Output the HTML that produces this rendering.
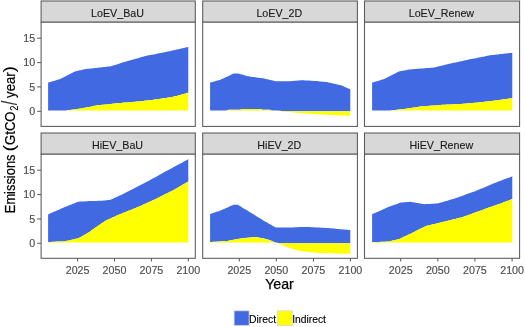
<!DOCTYPE html>
<html><head><meta charset="utf-8"><title>Emissions</title>
<style>html,body{margin:0;padding:0;background:#fff;}svg{display:block;}</style></head>
<body>
<svg width="525" height="327" viewBox="0 0 525 327" font-family="Liberation Sans, Arial, sans-serif">
<rect width="525" height="327" fill="#fff"/>
<polygon fill="#4169E1" points="48.1,82.6 49.6,82.2 51.0,81.8 52.5,81.3 53.9,80.9 55.4,80.5 56.9,80.1 58.3,79.6 59.8,79.2 61.2,78.5 62.7,77.7 64.2,77.0 65.6,76.2 67.1,75.5 68.5,74.8 70.0,74.0 71.5,73.3 72.9,72.6 74.4,71.8 75.8,71.3 77.3,70.9 78.8,70.6 80.2,70.2 81.7,69.9 83.2,69.5 84.6,69.2 86.1,69.0 87.5,68.8 89.0,68.7 90.5,68.5 91.9,68.4 93.4,68.2 94.8,68.1 96.3,67.9 97.8,67.7 99.2,67.6 100.7,67.4 102.1,67.3 103.6,67.1 105.1,67.0 106.5,66.8 108.0,66.6 109.4,66.5 110.9,66.2 112.4,65.8 113.8,65.3 115.3,64.9 116.7,64.4 118.2,63.9 119.7,63.5 121.1,63.0 122.6,62.6 124.0,62.1 125.5,61.7 127.0,61.3 128.4,60.8 129.9,60.4 131.3,60.0 132.8,59.6 134.3,59.2 135.7,58.8 137.2,58.4 138.6,58.0 140.1,57.6 141.6,57.1 143.0,56.7 144.5,56.3 145.9,55.9 147.4,55.6 148.9,55.3 150.3,55.1 151.8,54.8 153.3,54.5 154.7,54.2 156.2,53.9 157.6,53.6 159.1,53.3 160.6,53.0 162.0,52.7 163.5,52.4 164.9,52.2 166.4,51.8 167.9,51.5 169.3,51.2 170.8,50.9 172.2,50.6 173.7,50.2 175.2,49.9 176.6,49.6 178.1,49.3 179.5,48.9 181.0,48.6 182.5,48.3 183.9,48.0 185.4,47.6 186.8,47.3 188.3,47.0 188.3,92.7 186.8,93.1 185.4,93.5 183.9,93.9 182.5,94.3 181.0,94.7 179.5,95.1 178.1,95.5 176.6,95.9 175.2,96.3 173.7,96.6 172.2,97.0 170.8,97.2 169.3,97.4 167.9,97.6 166.4,97.9 164.9,98.1 163.5,98.3 162.0,98.5 160.6,98.7 159.1,98.9 157.6,99.1 156.2,99.3 154.7,99.5 153.3,99.7 151.8,99.9 150.3,100.0 148.9,100.2 147.4,100.4 145.9,100.5 144.5,100.7 143.0,100.9 141.6,101.1 140.1,101.2 138.6,101.4 137.2,101.5 135.7,101.7 134.3,101.8 132.8,101.9 131.3,102.0 129.9,102.2 128.4,102.3 127.0,102.4 125.5,102.5 124.0,102.6 122.6,102.8 121.1,102.9 119.7,103.0 118.2,103.2 116.7,103.3 115.3,103.5 113.8,103.6 112.4,103.8 110.9,103.9 109.4,104.1 108.0,104.2 106.5,104.4 105.1,104.5 103.6,104.7 102.1,104.8 100.7,105.0 99.2,105.1 97.8,105.3 96.3,105.5 94.8,105.8 93.4,106.1 91.9,106.4 90.5,106.7 89.0,107.0 87.5,107.2 86.1,107.5 84.6,107.8 83.2,108.1 81.7,108.4 80.2,108.6 78.8,108.8 77.3,109.0 75.8,109.2 74.4,109.4 72.9,109.6 71.5,109.8 70.0,109.9 68.5,110.1 67.1,110.3 65.6,110.4 64.2,110.4 62.7,110.4 61.2,110.4 59.8,110.4 58.3,110.4 56.9,110.5 55.4,110.5 53.9,110.5 52.5,110.5 51.0,110.5 49.6,110.5 48.1,110.5"/>
<polygon fill="#FFFF00" points="48.1,110.5 49.6,110.5 51.0,110.5 52.5,110.5 53.9,110.5 55.4,110.5 56.9,110.5 58.3,110.4 59.8,110.4 61.2,110.4 62.7,110.4 64.2,110.4 65.6,110.4 67.1,110.3 68.5,110.1 70.0,109.9 71.5,109.8 72.9,109.6 74.4,109.4 75.8,109.2 77.3,109.0 78.8,108.8 80.2,108.6 81.7,108.4 83.2,108.1 84.6,107.8 86.1,107.5 87.5,107.2 89.0,107.0 90.5,106.7 91.9,106.4 93.4,106.1 94.8,105.8 96.3,105.5 97.8,105.3 99.2,105.1 100.7,105.0 102.1,104.8 103.6,104.7 105.1,104.5 106.5,104.4 108.0,104.2 109.4,104.1 110.9,103.9 112.4,103.8 113.8,103.6 115.3,103.5 116.7,103.3 118.2,103.2 119.7,103.0 121.1,102.9 122.6,102.8 124.0,102.6 125.5,102.5 127.0,102.4 128.4,102.3 129.9,102.2 131.3,102.0 132.8,101.9 134.3,101.8 135.7,101.7 137.2,101.5 138.6,101.4 140.1,101.2 141.6,101.1 143.0,100.9 144.5,100.7 145.9,100.5 147.4,100.4 148.9,100.2 150.3,100.0 151.8,99.9 153.3,99.7 154.7,99.5 156.2,99.3 157.6,99.1 159.1,98.9 160.6,98.7 162.0,98.5 163.5,98.3 164.9,98.1 166.4,97.9 167.9,97.6 169.3,97.4 170.8,97.2 172.2,97.0 173.7,96.6 175.2,96.3 176.6,95.9 178.1,95.5 179.5,95.1 181.0,94.7 182.5,94.3 183.9,93.9 185.4,93.5 186.8,93.1 188.3,92.7 188.3,110.5 186.8,110.5 185.4,110.5 183.9,110.5 182.5,110.5 181.0,110.5 179.5,110.5 178.1,110.5 176.6,110.5 175.2,110.5 173.7,110.5 172.2,110.5 170.8,110.5 169.3,110.5 167.9,110.5 166.4,110.5 164.9,110.5 163.5,110.5 162.0,110.5 160.6,110.5 159.1,110.5 157.6,110.5 156.2,110.5 154.7,110.5 153.3,110.5 151.8,110.5 150.3,110.5 148.9,110.5 147.4,110.5 145.9,110.5 144.5,110.5 143.0,110.5 141.6,110.5 140.1,110.5 138.6,110.5 137.2,110.5 135.7,110.5 134.3,110.5 132.8,110.5 131.3,110.5 129.9,110.5 128.4,110.5 127.0,110.5 125.5,110.5 124.0,110.5 122.6,110.5 121.1,110.5 119.7,110.5 118.2,110.5 116.7,110.5 115.3,110.5 113.8,110.5 112.4,110.5 110.9,110.5 109.4,110.5 108.0,110.5 106.5,110.5 105.1,110.5 103.6,110.5 102.1,110.5 100.7,110.5 99.2,110.5 97.8,110.5 96.3,110.5 94.8,110.5 93.4,110.5 91.9,110.5 90.5,110.5 89.0,110.5 87.5,110.5 86.1,110.5 84.6,110.5 83.2,110.5 81.7,110.5 80.2,110.5 78.8,110.5 77.3,110.5 75.8,110.5 74.4,110.5 72.9,110.5 71.5,110.5 70.0,110.5 68.5,110.5 67.1,110.5 65.6,110.5 64.2,110.5 62.7,110.5 61.2,110.5 59.8,110.5 58.3,110.5 56.9,110.5 55.4,110.5 53.9,110.5 52.5,110.5 51.0,110.5 49.6,110.5 48.1,110.5"/>
<rect x="41.1" y="22.0" width="154.2" height="104.4" fill="none" stroke="#5a5a5a" stroke-width="1.05"/>
<rect x="41.1" y="1.0" width="154.2" height="21.0" fill="#D8D8D8" stroke="#5a5a5a" stroke-width="1.05"/>
<text x="117.5" y="16.5" font-size="10.7" fill="#1A1A1A" stroke="#1A1A1A" stroke-width="0.12" text-anchor="middle">LoEV_BaU</text>
<polygon fill="#4169E1" points="210.1,82.6 211.6,82.2 213.0,81.8 214.5,81.4 215.9,81.0 217.4,80.6 218.9,80.3 220.3,79.8 221.8,79.1 223.2,78.4 224.7,77.7 226.2,77.1 227.6,76.4 229.1,75.7 230.5,75.0 232.0,74.3 233.5,73.6 234.9,73.5 236.4,73.5 237.8,73.5 239.3,73.7 240.8,74.2 242.2,74.6 243.7,75.1 245.2,75.6 246.6,76.1 248.1,76.3 249.5,76.5 251.0,76.7 252.5,76.9 253.9,77.1 255.4,77.3 256.8,77.5 258.3,77.7 259.8,77.9 261.2,78.1 262.7,78.3 264.1,78.6 265.6,79.0 267.1,79.3 268.5,79.6 270.0,79.9 271.4,80.3 272.9,80.6 274.4,80.9 275.8,81.2 277.3,81.2 278.7,81.2 280.2,81.2 281.7,81.2 283.1,81.2 284.6,81.2 286.0,81.2 287.5,81.2 289.0,81.2 290.4,81.2 291.9,81.1 293.3,80.9 294.8,80.8 296.3,80.7 297.7,80.5 299.2,80.4 300.6,80.2 302.1,80.3 303.6,80.3 305.0,80.4 306.5,80.5 307.9,80.6 309.4,80.6 310.9,80.7 312.3,80.8 313.8,80.9 315.2,81.0 316.7,81.1 318.2,81.3 319.6,81.4 321.1,81.6 322.6,81.7 324.0,81.8 325.5,82.0 326.9,82.1 328.4,82.4 329.9,82.7 331.3,83.0 332.8,83.4 334.2,83.7 335.7,84.0 337.2,84.4 338.6,84.7 340.1,85.0 341.5,85.4 343.0,86.1 344.5,86.7 345.9,87.4 347.4,88.0 348.8,88.7 350.3,89.3 350.3,111.2 348.8,111.2 347.4,111.2 345.9,111.2 344.5,111.2 343.0,111.2 341.5,111.2 340.1,111.2 338.6,111.2 337.2,111.2 335.7,111.2 334.2,111.2 332.8,111.2 331.3,111.2 329.9,111.2 328.4,111.2 326.9,111.2 325.5,111.2 324.0,111.2 322.6,111.2 321.1,111.2 319.6,111.2 318.2,111.2 316.7,111.2 315.2,111.2 313.8,111.2 312.3,111.2 310.9,111.2 309.4,111.2 307.9,111.2 306.5,111.2 305.0,111.2 303.6,111.2 302.1,111.2 300.6,111.2 299.2,111.2 297.7,111.2 296.3,111.2 294.8,111.2 293.3,111.2 291.9,111.2 290.4,111.2 289.0,111.2 287.5,111.2 286.0,111.1 284.6,111.0 283.1,111.0 281.7,110.9 280.2,110.8 278.7,110.7 277.3,110.7 275.8,110.6 274.4,110.6 272.9,110.5 271.4,110.2 270.0,109.8 268.5,109.8 267.1,109.8 265.6,109.7 264.1,109.7 262.7,109.7 261.2,109.2 259.8,109.1 258.3,109.1 256.8,109.1 255.4,109.1 253.9,109.1 252.5,109.1 251.0,109.1 249.5,109.1 248.1,109.1 246.6,109.1 245.2,109.1 243.7,109.1 242.2,109.1 240.8,109.5 239.3,109.7 237.8,109.7 236.4,109.7 234.9,109.7 233.5,109.7 232.0,109.7 230.5,109.7 229.1,109.7 227.6,110.0 226.2,110.4 224.7,110.4 223.2,110.4 221.8,110.4 220.3,110.4 218.9,110.4 217.4,110.5 215.9,110.5 214.5,110.5 213.0,110.5 211.6,110.5 210.1,110.5"/>
<polygon fill="#FFFF00" points="210.1,110.5 211.6,110.5 213.0,110.5 214.5,110.5 215.9,110.5 217.4,110.5 218.9,110.4 220.3,110.4 221.8,110.4 223.2,110.4 224.7,110.4 226.2,110.4 227.6,110.0 229.1,109.7 230.5,109.7 232.0,109.7 233.5,109.7 234.9,109.7 236.4,109.7 237.8,109.7 239.3,109.7 240.8,109.5 242.2,109.1 243.7,109.1 245.2,109.1 246.6,109.1 248.1,109.1 249.5,109.1 251.0,109.1 252.5,109.1 253.9,109.1 255.4,109.1 256.8,109.1 258.3,109.1 259.8,109.1 261.2,109.2 262.7,109.7 264.1,109.7 265.6,109.7 267.1,109.8 268.5,109.8 270.0,109.8 271.4,110.2 272.9,110.5 274.4,110.7 275.8,110.8 277.3,110.9 278.7,111.0 280.2,111.1 281.7,111.3 283.1,111.4 284.6,111.6 286.0,111.7 287.5,111.9 289.0,112.0 290.4,112.1 291.9,112.3 293.3,112.4 294.8,112.6 296.3,112.7 297.7,112.9 299.2,113.0 300.6,113.1 302.1,113.2 303.6,113.3 305.0,113.4 306.5,113.5 307.9,113.6 309.4,113.7 310.9,113.8 312.3,113.9 313.8,114.0 315.2,114.1 316.7,114.2 318.2,114.3 319.6,114.3 321.1,114.4 322.6,114.5 324.0,114.6 325.5,114.6 326.9,114.7 328.4,114.8 329.9,114.9 331.3,115.0 332.8,115.0 334.2,115.1 335.7,115.2 337.2,115.2 338.6,115.3 340.1,115.4 341.5,115.4 343.0,115.5 344.5,115.6 345.9,115.6 347.4,115.7 348.8,115.7 350.3,115.8 350.3,111.2 348.8,111.2 347.4,111.2 345.9,111.2 344.5,111.2 343.0,111.2 341.5,111.2 340.1,111.2 338.6,111.2 337.2,111.2 335.7,111.2 334.2,111.2 332.8,111.2 331.3,111.2 329.9,111.2 328.4,111.2 326.9,111.2 325.5,111.2 324.0,111.2 322.6,111.2 321.1,111.2 319.6,111.2 318.2,111.2 316.7,111.2 315.2,111.2 313.8,111.2 312.3,111.2 310.9,111.2 309.4,111.2 307.9,111.2 306.5,111.2 305.0,111.2 303.6,111.2 302.1,111.2 300.6,111.2 299.2,111.2 297.7,111.2 296.3,111.2 294.8,111.2 293.3,111.2 291.9,111.2 290.4,111.2 289.0,111.2 287.5,111.2 286.0,111.1 284.6,111.0 283.1,111.0 281.7,110.9 280.2,110.8 278.7,110.7 277.3,110.7 275.8,110.6 274.4,110.6 272.9,110.5 271.4,110.5 270.0,110.5 268.5,110.5 267.1,110.5 265.6,110.5 264.1,110.5 262.7,110.5 261.2,110.5 259.8,110.5 258.3,110.5 256.8,110.5 255.4,110.5 253.9,110.5 252.5,110.5 251.0,110.5 249.5,110.5 248.1,110.5 246.6,110.5 245.2,110.5 243.7,110.5 242.2,110.5 240.8,110.5 239.3,110.5 237.8,110.5 236.4,110.5 234.9,110.5 233.5,110.5 232.0,110.5 230.5,110.5 229.1,110.5 227.6,110.5 226.2,110.5 224.7,110.5 223.2,110.5 221.8,110.5 220.3,110.5 218.9,110.5 217.4,110.5 215.9,110.5 214.5,110.5 213.0,110.5 211.6,110.5 210.1,110.5"/>
<rect x="202.7" y="22.0" width="154.7" height="104.4" fill="none" stroke="#5a5a5a" stroke-width="1.05"/>
<rect x="202.7" y="1.0" width="154.7" height="21.0" fill="#D8D8D8" stroke="#5a5a5a" stroke-width="1.05"/>
<text x="279.3" y="16.5" font-size="10.7" fill="#1A1A1A" stroke="#1A1A1A" stroke-width="0.12" text-anchor="middle">LoEV_2D</text>
<polygon fill="#4169E1" points="372.1,82.6 373.6,82.2 375.0,81.8 376.5,81.3 377.9,80.9 379.4,80.5 380.9,80.1 382.3,79.6 383.8,79.2 385.2,78.5 386.7,77.7 388.2,77.0 389.6,76.2 391.1,75.5 392.5,74.8 394.0,74.0 395.5,73.3 396.9,72.6 398.4,71.8 399.8,71.3 401.3,71.0 402.8,70.7 404.2,70.5 405.7,70.2 407.1,69.9 408.6,69.6 410.1,69.4 411.5,69.3 413.0,69.2 414.5,69.1 415.9,69.0 417.4,68.8 418.8,68.7 420.3,68.6 421.8,68.5 423.2,68.4 424.7,68.3 426.1,68.1 427.6,68.0 429.1,67.9 430.5,67.8 432.0,67.7 433.4,67.6 434.9,67.4 436.4,67.0 437.8,66.6 439.3,66.3 440.7,65.9 442.2,65.6 443.7,65.2 445.1,64.8 446.6,64.5 448.0,64.1 449.5,63.8 451.0,63.5 452.4,63.1 453.9,62.8 455.3,62.5 456.8,62.2 458.3,61.9 459.7,61.6 461.2,61.2 462.6,60.9 464.1,60.6 465.6,60.3 467.0,60.0 468.5,59.6 469.9,59.3 471.4,59.0 472.9,58.7 474.3,58.5 475.8,58.2 477.2,57.9 478.7,57.6 480.2,57.3 481.6,57.0 483.1,56.7 484.6,56.4 486.0,56.1 487.5,55.8 488.9,55.6 490.4,55.3 491.9,55.1 493.3,55.0 494.8,54.8 496.2,54.6 497.7,54.4 499.2,54.3 500.6,54.1 502.1,53.9 503.5,53.7 505.0,53.6 506.5,53.4 507.9,53.2 509.4,53.0 510.8,52.9 512.3,52.7 512.3,98.0 510.8,98.2 509.4,98.4 507.9,98.7 506.5,98.9 505.0,99.1 503.5,99.3 502.1,99.5 500.6,99.8 499.2,100.0 497.7,100.2 496.2,100.4 494.8,100.6 493.3,100.8 491.9,100.9 490.4,101.1 488.9,101.3 487.5,101.5 486.0,101.6 484.6,101.8 483.1,102.0 481.6,102.2 480.2,102.3 478.7,102.5 477.2,102.6 475.8,102.7 474.3,102.8 472.9,103.0 471.4,103.1 469.9,103.2 468.5,103.3 467.0,103.4 465.6,103.6 464.1,103.7 462.6,103.8 461.2,103.9 459.7,104.0 458.3,104.0 456.8,104.1 455.3,104.2 453.9,104.2 452.4,104.3 451.0,104.4 449.5,104.5 448.0,104.5 446.6,104.6 445.1,104.7 443.7,104.8 442.2,104.8 440.7,104.9 439.3,105.0 437.8,105.2 436.4,105.3 434.9,105.4 433.4,105.5 432.0,105.6 430.5,105.7 429.1,105.8 427.6,105.9 426.1,106.0 424.7,106.1 423.2,106.2 421.8,106.3 420.3,106.5 418.8,106.7 417.4,106.9 415.9,107.2 414.5,107.4 413.0,107.6 411.5,107.9 410.1,108.1 408.6,108.3 407.1,108.6 405.7,108.8 404.2,109.0 402.8,109.1 401.3,109.3 399.8,109.4 398.4,109.6 396.9,109.7 395.5,109.9 394.0,110.0 392.5,110.2 391.1,110.3 389.6,110.4 388.2,110.4 386.7,110.4 385.2,110.4 383.8,110.4 382.3,110.4 380.9,110.5 379.4,110.5 377.9,110.5 376.5,110.5 375.0,110.5 373.6,110.5 372.1,110.5"/>
<polygon fill="#FFFF00" points="372.1,110.5 373.6,110.5 375.0,110.5 376.5,110.5 377.9,110.5 379.4,110.5 380.9,110.5 382.3,110.4 383.8,110.4 385.2,110.4 386.7,110.4 388.2,110.4 389.6,110.4 391.1,110.3 392.5,110.2 394.0,110.0 395.5,109.9 396.9,109.7 398.4,109.6 399.8,109.4 401.3,109.3 402.8,109.1 404.2,109.0 405.7,108.8 407.1,108.6 408.6,108.3 410.1,108.1 411.5,107.9 413.0,107.6 414.5,107.4 415.9,107.2 417.4,106.9 418.8,106.7 420.3,106.5 421.8,106.3 423.2,106.2 424.7,106.1 426.1,106.0 427.6,105.9 429.1,105.8 430.5,105.7 432.0,105.6 433.4,105.5 434.9,105.4 436.4,105.3 437.8,105.2 439.3,105.0 440.7,104.9 442.2,104.8 443.7,104.8 445.1,104.7 446.6,104.6 448.0,104.5 449.5,104.5 451.0,104.4 452.4,104.3 453.9,104.2 455.3,104.2 456.8,104.1 458.3,104.0 459.7,104.0 461.2,103.9 462.6,103.8 464.1,103.7 465.6,103.6 467.0,103.4 468.5,103.3 469.9,103.2 471.4,103.1 472.9,103.0 474.3,102.8 475.8,102.7 477.2,102.6 478.7,102.5 480.2,102.3 481.6,102.2 483.1,102.0 484.6,101.8 486.0,101.6 487.5,101.5 488.9,101.3 490.4,101.1 491.9,100.9 493.3,100.8 494.8,100.6 496.2,100.4 497.7,100.2 499.2,100.0 500.6,99.8 502.1,99.5 503.5,99.3 505.0,99.1 506.5,98.9 507.9,98.7 509.4,98.4 510.8,98.2 512.3,98.0 512.3,110.5 510.8,110.5 509.4,110.5 507.9,110.5 506.5,110.5 505.0,110.5 503.5,110.5 502.1,110.5 500.6,110.5 499.2,110.5 497.7,110.5 496.2,110.5 494.8,110.5 493.3,110.5 491.9,110.5 490.4,110.5 488.9,110.5 487.5,110.5 486.0,110.5 484.6,110.5 483.1,110.5 481.6,110.5 480.2,110.5 478.7,110.5 477.2,110.5 475.8,110.5 474.3,110.5 472.9,110.5 471.4,110.5 469.9,110.5 468.5,110.5 467.0,110.5 465.6,110.5 464.1,110.5 462.6,110.5 461.2,110.5 459.7,110.5 458.3,110.5 456.8,110.5 455.3,110.5 453.9,110.5 452.4,110.5 451.0,110.5 449.5,110.5 448.0,110.5 446.6,110.5 445.1,110.5 443.7,110.5 442.2,110.5 440.7,110.5 439.3,110.5 437.8,110.5 436.4,110.5 434.9,110.5 433.4,110.5 432.0,110.5 430.5,110.5 429.1,110.5 427.6,110.5 426.1,110.5 424.7,110.5 423.2,110.5 421.8,110.5 420.3,110.5 418.8,110.5 417.4,110.5 415.9,110.5 414.5,110.5 413.0,110.5 411.5,110.5 410.1,110.5 408.6,110.5 407.1,110.5 405.7,110.5 404.2,110.5 402.8,110.5 401.3,110.5 399.8,110.5 398.4,110.5 396.9,110.5 395.5,110.5 394.0,110.5 392.5,110.5 391.1,110.5 389.6,110.5 388.2,110.5 386.7,110.5 385.2,110.5 383.8,110.5 382.3,110.5 380.9,110.5 379.4,110.5 377.9,110.5 376.5,110.5 375.0,110.5 373.6,110.5 372.1,110.5"/>
<rect x="364.5" y="22.0" width="155.1" height="104.4" fill="none" stroke="#5a5a5a" stroke-width="1.05"/>
<rect x="364.5" y="1.0" width="155.1" height="21.0" fill="#D8D8D8" stroke="#5a5a5a" stroke-width="1.05"/>
<text x="441.4" y="16.5" font-size="10.7" fill="#1A1A1A" stroke="#1A1A1A" stroke-width="0.12" text-anchor="middle">LoEV_Renew</text>
<line x1="37.2" x2="41" y1="111.3" y2="111.3" stroke="#555" stroke-width="1"/>
<text x="35.1" y="115.1" font-size="10.7" fill="#4D4D4D" stroke="#4D4D4D" stroke-width="0.15" text-anchor="end">0</text>
<line x1="37.2" x2="41" y1="86.9" y2="86.9" stroke="#555" stroke-width="1"/>
<text x="35.1" y="90.7" font-size="10.7" fill="#4D4D4D" stroke="#4D4D4D" stroke-width="0.15" text-anchor="end">5</text>
<line x1="37.2" x2="41" y1="62.6" y2="62.6" stroke="#555" stroke-width="1"/>
<text x="35.1" y="66.4" font-size="10.7" fill="#4D4D4D" stroke="#4D4D4D" stroke-width="0.15" text-anchor="end">10</text>
<line x1="37.2" x2="41" y1="38.2" y2="38.2" stroke="#555" stroke-width="1"/>
<text x="35.1" y="42.0" font-size="10.7" fill="#4D4D4D" stroke="#4D4D4D" stroke-width="0.15" text-anchor="end">15</text>
<polygon fill="#4169E1" points="48.1,214.4 49.6,213.8 51.0,213.1 52.5,212.5 53.9,211.8 55.4,211.2 56.9,210.5 58.3,209.9 59.8,209.2 61.2,208.6 62.7,207.9 64.2,207.3 65.6,206.7 67.1,206.2 68.5,205.6 70.0,205.0 71.5,204.4 72.9,203.8 74.4,203.3 75.8,202.7 77.3,202.1 78.8,201.7 80.2,201.6 81.7,201.5 83.2,201.4 84.6,201.4 86.1,201.3 87.5,201.2 89.0,201.1 90.5,201.1 91.9,201.0 93.4,200.9 94.8,200.9 96.3,200.9 97.8,200.8 99.2,200.8 100.7,200.7 102.1,200.7 103.6,200.6 105.1,200.5 106.5,200.3 108.0,200.1 109.4,199.9 110.9,199.5 112.4,198.9 113.8,198.2 115.3,197.5 116.7,196.9 118.2,196.2 119.7,195.5 121.1,194.9 122.6,194.2 124.0,193.5 125.5,192.8 127.0,192.1 128.4,191.3 129.9,190.6 131.3,189.8 132.8,189.1 134.3,188.3 135.7,187.6 137.2,186.8 138.6,186.1 140.1,185.3 141.6,184.6 143.0,183.8 144.5,183.1 145.9,182.3 147.4,181.5 148.9,180.7 150.3,179.9 151.8,179.1 153.3,178.3 154.7,177.5 156.2,176.7 157.6,175.9 159.1,175.0 160.6,174.2 162.0,173.4 163.5,172.6 164.9,171.8 166.4,171.0 167.9,170.2 169.3,169.5 170.8,168.7 172.2,167.9 173.7,167.1 175.2,166.3 176.6,165.6 178.1,164.8 179.5,164.0 181.0,163.2 182.5,162.4 183.9,161.6 185.4,160.9 186.8,160.1 188.3,159.3 188.3,181.5 186.8,182.3 185.4,183.2 183.9,184.0 182.5,184.8 181.0,185.7 179.5,186.5 178.1,187.4 176.6,188.2 175.2,189.0 173.7,189.9 172.2,190.7 170.8,191.4 169.3,192.1 167.9,192.9 166.4,193.6 164.9,194.3 163.5,195.1 162.0,195.8 160.6,196.5 159.1,197.3 157.6,198.0 156.2,198.7 154.7,199.4 153.3,200.1 151.8,200.7 150.3,201.4 148.9,202.1 147.4,202.8 145.9,203.4 144.5,204.1 143.0,204.8 141.6,205.4 140.1,206.1 138.6,206.8 137.2,207.3 135.7,207.9 134.3,208.5 132.8,209.1 131.3,209.7 129.9,210.3 128.4,210.8 127.0,211.4 125.5,212.0 124.0,212.6 122.6,213.2 121.1,213.8 119.7,214.3 118.2,214.9 116.7,215.5 115.3,216.2 113.8,216.9 112.4,217.5 110.9,218.2 109.4,218.9 108.0,219.5 106.5,220.2 105.1,220.9 103.6,221.9 102.1,223.0 100.7,224.0 99.2,225.0 97.8,226.0 96.3,227.1 94.8,228.1 93.4,229.1 91.9,230.1 90.5,231.2 89.0,232.2 87.5,233.1 86.1,233.9 84.6,234.7 83.2,235.6 81.7,236.4 80.2,237.2 78.8,238.0 77.3,238.5 75.8,238.8 74.4,239.2 72.9,239.5 71.5,239.8 70.0,240.2 68.5,240.5 67.1,240.8 65.6,241.1 64.2,241.3 62.7,241.4 61.2,241.5 59.8,241.5 58.3,241.6 56.9,241.6 55.4,241.7 53.9,241.8 52.5,241.8 51.0,241.9 49.6,241.9 48.1,242.0"/>
<polygon fill="#FFFF00" points="48.1,242.0 49.6,241.9 51.0,241.9 52.5,241.8 53.9,241.8 55.4,241.7 56.9,241.6 58.3,241.6 59.8,241.5 61.2,241.5 62.7,241.4 64.2,241.3 65.6,241.1 67.1,240.8 68.5,240.5 70.0,240.2 71.5,239.8 72.9,239.5 74.4,239.2 75.8,238.8 77.3,238.5 78.8,238.0 80.2,237.2 81.7,236.4 83.2,235.6 84.6,234.7 86.1,233.9 87.5,233.1 89.0,232.2 90.5,231.2 91.9,230.1 93.4,229.1 94.8,228.1 96.3,227.1 97.8,226.0 99.2,225.0 100.7,224.0 102.1,223.0 103.6,221.9 105.1,220.9 106.5,220.2 108.0,219.5 109.4,218.9 110.9,218.2 112.4,217.5 113.8,216.9 115.3,216.2 116.7,215.5 118.2,214.9 119.7,214.3 121.1,213.8 122.6,213.2 124.0,212.6 125.5,212.0 127.0,211.4 128.4,210.8 129.9,210.3 131.3,209.7 132.8,209.1 134.3,208.5 135.7,207.9 137.2,207.3 138.6,206.8 140.1,206.1 141.6,205.4 143.0,204.8 144.5,204.1 145.9,203.4 147.4,202.8 148.9,202.1 150.3,201.4 151.8,200.7 153.3,200.1 154.7,199.4 156.2,198.7 157.6,198.0 159.1,197.3 160.6,196.5 162.0,195.8 163.5,195.1 164.9,194.3 166.4,193.6 167.9,192.9 169.3,192.1 170.8,191.4 172.2,190.7 173.7,189.9 175.2,189.0 176.6,188.2 178.1,187.4 179.5,186.5 181.0,185.7 182.5,184.8 183.9,184.0 185.4,183.2 186.8,182.3 188.3,181.5 188.3,242.6 186.8,242.6 185.4,242.6 183.9,242.6 182.5,242.6 181.0,242.6 179.5,242.6 178.1,242.6 176.6,242.6 175.2,242.6 173.7,242.6 172.2,242.6 170.8,242.6 169.3,242.6 167.9,242.6 166.4,242.6 164.9,242.6 163.5,242.6 162.0,242.6 160.6,242.6 159.1,242.6 157.6,242.6 156.2,242.6 154.7,242.6 153.3,242.6 151.8,242.6 150.3,242.6 148.9,242.6 147.4,242.6 145.9,242.6 144.5,242.6 143.0,242.6 141.6,242.6 140.1,242.6 138.6,242.6 137.2,242.6 135.7,242.6 134.3,242.6 132.8,242.6 131.3,242.6 129.9,242.6 128.4,242.6 127.0,242.6 125.5,242.6 124.0,242.6 122.6,242.6 121.1,242.6 119.7,242.6 118.2,242.6 116.7,242.6 115.3,242.6 113.8,242.6 112.4,242.6 110.9,242.6 109.4,242.6 108.0,242.6 106.5,242.6 105.1,242.6 103.6,242.6 102.1,242.6 100.7,242.6 99.2,242.6 97.8,242.6 96.3,242.6 94.8,242.6 93.4,242.6 91.9,242.6 90.5,242.6 89.0,242.6 87.5,242.6 86.1,242.6 84.6,242.6 83.2,242.6 81.7,242.6 80.2,242.6 78.8,242.6 77.3,242.6 75.8,242.6 74.4,242.6 72.9,242.6 71.5,242.6 70.0,242.6 68.5,242.6 67.1,242.6 65.6,242.6 64.2,242.6 62.7,242.6 61.2,242.6 59.8,242.6 58.3,242.6 56.9,242.6 55.4,242.6 53.9,242.6 52.5,242.6 51.0,242.6 49.6,242.6 48.1,242.6"/>
<rect x="41.1" y="154.0" width="154.2" height="104.30000000000001" fill="none" stroke="#5a5a5a" stroke-width="1.05"/>
<rect x="41.1" y="133.0" width="154.2" height="21.0" fill="#D8D8D8" stroke="#5a5a5a" stroke-width="1.05"/>
<text x="117.5" y="148.5" font-size="10.7" fill="#1A1A1A" stroke="#1A1A1A" stroke-width="0.12" text-anchor="middle">HiEV_BaU</text>
<line x1="77.6" x2="77.6" y1="258.3" y2="261.5" stroke="#555" stroke-width="1"/>
<text x="77.6" y="273.6" font-size="10.7" fill="#4D4D4D" stroke="#4D4D4D" stroke-width="0.15" text-anchor="middle">2025</text>
<line x1="114.5" x2="114.5" y1="258.3" y2="261.5" stroke="#555" stroke-width="1"/>
<text x="114.5" y="273.6" font-size="10.7" fill="#4D4D4D" stroke="#4D4D4D" stroke-width="0.15" text-anchor="middle">2050</text>
<line x1="151.4" x2="151.4" y1="258.3" y2="261.5" stroke="#555" stroke-width="1"/>
<text x="151.4" y="273.6" font-size="10.7" fill="#4D4D4D" stroke="#4D4D4D" stroke-width="0.15" text-anchor="middle">2075</text>
<line x1="188.3" x2="188.3" y1="258.3" y2="261.5" stroke="#555" stroke-width="1"/>
<text x="188.3" y="273.6" font-size="10.7" fill="#4D4D4D" stroke="#4D4D4D" stroke-width="0.15" text-anchor="middle">2100</text>
<polygon fill="#4169E1" points="210.1,214.1 211.6,213.6 213.0,213.1 214.5,212.6 215.9,212.1 217.4,211.6 218.9,211.2 220.3,210.6 221.8,210.0 223.2,209.3 224.7,208.7 226.2,208.0 227.6,207.4 229.1,206.7 230.5,206.1 232.0,205.4 233.5,204.8 234.9,204.7 236.4,204.7 237.8,204.8 239.3,205.7 240.8,206.6 242.2,207.5 243.7,208.4 245.2,209.2 246.6,210.1 248.1,211.0 249.5,211.9 251.0,212.8 252.5,213.7 253.9,214.6 255.4,215.5 256.8,216.4 258.3,217.3 259.8,218.2 261.2,219.1 262.7,220.0 264.1,220.9 265.6,221.8 267.1,222.6 268.5,223.4 270.0,224.3 271.4,225.1 272.9,226.0 274.4,226.8 275.8,227.5 277.3,227.5 278.7,227.5 280.2,227.5 281.7,227.5 283.1,227.5 284.6,227.5 286.0,227.5 287.5,227.5 289.0,227.5 290.4,227.5 291.9,227.5 293.3,227.4 294.8,227.3 296.3,227.3 297.7,227.2 299.2,227.1 300.6,227.1 302.1,227.0 303.6,226.9 305.0,226.9 306.5,227.0 307.9,227.1 309.4,227.1 310.9,227.2 312.3,227.3 313.8,227.3 315.2,227.4 316.7,227.5 318.2,227.6 319.6,227.6 321.1,227.7 322.6,227.8 324.0,227.8 325.5,227.9 326.9,228.0 328.4,228.1 329.9,228.2 331.3,228.3 332.8,228.5 334.2,228.6 335.7,228.7 337.2,228.9 338.6,229.0 340.1,229.2 341.5,229.3 343.0,229.4 344.5,229.6 345.9,229.7 347.4,229.8 348.8,230.0 350.3,230.1 350.3,243.3 348.8,243.3 347.4,243.3 345.9,243.3 344.5,243.3 343.0,243.3 341.5,243.3 340.1,243.3 338.6,243.3 337.2,243.3 335.7,243.3 334.2,243.3 332.8,243.3 331.3,243.3 329.9,243.3 328.4,243.3 326.9,243.3 325.5,243.3 324.0,243.3 322.6,243.3 321.1,243.3 319.6,243.3 318.2,243.3 316.7,243.3 315.2,243.3 313.8,243.3 312.3,243.3 310.9,243.3 309.4,243.3 307.9,243.3 306.5,243.3 305.0,243.3 303.6,243.3 302.1,243.3 300.6,243.3 299.2,243.3 297.7,243.3 296.3,243.3 294.8,243.3 293.3,243.3 291.9,243.3 290.4,243.3 289.0,243.3 287.5,243.3 286.0,243.3 284.6,243.3 283.1,243.3 281.7,243.3 280.2,243.3 278.7,243.1 277.3,242.8 275.8,242.5 274.4,241.9 272.9,241.4 271.4,240.8 270.0,240.3 268.5,239.8 267.1,239.3 265.6,239.0 264.1,238.6 262.7,238.3 261.2,238.0 259.8,237.7 258.3,237.4 256.8,237.1 255.4,237.1 253.9,237.2 252.5,237.3 251.0,237.4 249.5,237.5 248.1,237.7 246.6,237.8 245.2,237.9 243.7,238.0 242.2,238.3 240.8,238.5 239.3,238.8 237.8,239.0 236.4,239.3 234.9,239.6 233.5,239.8 232.0,240.1 230.5,240.3 229.1,240.6 227.6,240.9 226.2,241.0 224.7,241.1 223.2,241.2 221.8,241.3 220.3,241.4 218.9,241.5 217.4,241.6 215.9,241.7 214.5,241.7 213.0,241.8 211.6,241.9 210.1,242.0"/>
<polygon fill="#FFFF00" points="210.1,242.0 211.6,241.9 213.0,241.8 214.5,241.7 215.9,241.7 217.4,241.6 218.9,241.5 220.3,241.4 221.8,241.3 223.2,241.2 224.7,241.1 226.2,241.0 227.6,240.9 229.1,240.6 230.5,240.3 232.0,240.1 233.5,239.8 234.9,239.6 236.4,239.3 237.8,239.0 239.3,238.8 240.8,238.5 242.2,238.3 243.7,238.0 245.2,237.9 246.6,237.8 248.1,237.7 249.5,237.5 251.0,237.4 252.5,237.3 253.9,237.2 255.4,237.1 256.8,237.1 258.3,237.4 259.8,237.7 261.2,238.0 262.7,238.3 264.1,238.6 265.6,239.0 267.1,239.3 268.5,239.8 270.0,240.3 271.4,240.8 272.9,241.4 274.4,241.9 275.8,242.5 277.3,243.0 278.7,243.6 280.2,244.2 281.7,244.8 283.1,245.3 284.6,245.9 286.0,246.5 287.5,247.1 289.0,247.7 290.4,248.2 291.9,248.7 293.3,249.1 294.8,249.5 296.3,249.9 297.7,250.3 299.2,250.7 300.6,251.1 302.1,251.2 303.6,251.4 305.0,251.5 306.5,251.7 307.9,251.8 309.4,252.0 310.9,252.1 312.3,252.3 313.8,252.4 315.2,252.6 316.7,252.7 318.2,252.8 319.6,252.9 321.1,252.9 322.6,253.0 324.0,253.0 325.5,253.1 326.9,253.1 328.4,253.2 329.9,253.2 331.3,253.3 332.8,253.3 334.2,253.4 335.7,253.4 337.2,253.5 338.6,253.5 340.1,253.5 341.5,253.6 343.0,253.6 344.5,253.7 345.9,253.7 347.4,253.7 348.8,253.8 350.3,253.8 350.3,243.3 348.8,243.3 347.4,243.3 345.9,243.3 344.5,243.3 343.0,243.3 341.5,243.3 340.1,243.3 338.6,243.3 337.2,243.3 335.7,243.3 334.2,243.3 332.8,243.3 331.3,243.3 329.9,243.3 328.4,243.3 326.9,243.3 325.5,243.3 324.0,243.3 322.6,243.3 321.1,243.3 319.6,243.3 318.2,243.3 316.7,243.3 315.2,243.3 313.8,243.3 312.3,243.3 310.9,243.3 309.4,243.3 307.9,243.3 306.5,243.3 305.0,243.3 303.6,243.3 302.1,243.3 300.6,243.3 299.2,243.3 297.7,243.3 296.3,243.3 294.8,243.3 293.3,243.3 291.9,243.3 290.4,243.3 289.0,243.3 287.5,243.3 286.0,243.3 284.6,243.3 283.1,243.3 281.7,243.3 280.2,243.3 278.7,243.1 277.3,242.8 275.8,242.6 274.4,242.6 272.9,242.6 271.4,242.6 270.0,242.6 268.5,242.6 267.1,242.6 265.6,242.6 264.1,242.6 262.7,242.6 261.2,242.6 259.8,242.6 258.3,242.6 256.8,242.6 255.4,242.6 253.9,242.6 252.5,242.6 251.0,242.6 249.5,242.6 248.1,242.6 246.6,242.6 245.2,242.6 243.7,242.6 242.2,242.6 240.8,242.6 239.3,242.6 237.8,242.6 236.4,242.6 234.9,242.6 233.5,242.6 232.0,242.6 230.5,242.6 229.1,242.6 227.6,242.6 226.2,242.6 224.7,242.6 223.2,242.6 221.8,242.6 220.3,242.6 218.9,242.6 217.4,242.6 215.9,242.6 214.5,242.6 213.0,242.6 211.6,242.6 210.1,242.6"/>
<rect x="202.7" y="154.0" width="154.7" height="104.30000000000001" fill="none" stroke="#5a5a5a" stroke-width="1.05"/>
<rect x="202.7" y="133.0" width="154.7" height="21.0" fill="#D8D8D8" stroke="#5a5a5a" stroke-width="1.05"/>
<text x="279.3" y="148.5" font-size="10.7" fill="#1A1A1A" stroke="#1A1A1A" stroke-width="0.12" text-anchor="middle">HiEV_2D</text>
<line x1="239.3" x2="239.3" y1="258.3" y2="261.5" stroke="#555" stroke-width="1"/>
<text x="239.3" y="273.6" font-size="10.7" fill="#4D4D4D" stroke="#4D4D4D" stroke-width="0.15" text-anchor="middle">2025</text>
<line x1="276.3" x2="276.3" y1="258.3" y2="261.5" stroke="#555" stroke-width="1"/>
<text x="276.3" y="273.6" font-size="10.7" fill="#4D4D4D" stroke="#4D4D4D" stroke-width="0.15" text-anchor="middle">2050</text>
<line x1="313.4" x2="313.4" y1="258.3" y2="261.5" stroke="#555" stroke-width="1"/>
<text x="313.4" y="273.6" font-size="10.7" fill="#4D4D4D" stroke="#4D4D4D" stroke-width="0.15" text-anchor="middle">2075</text>
<line x1="350.4" x2="350.4" y1="258.3" y2="261.5" stroke="#555" stroke-width="1"/>
<text x="350.4" y="273.6" font-size="10.7" fill="#4D4D4D" stroke="#4D4D4D" stroke-width="0.15" text-anchor="middle">2100</text>
<polygon fill="#4169E1" points="372.1,214.3 373.6,213.6 375.0,213.0 376.5,212.3 377.9,211.7 379.4,211.0 380.9,210.4 382.3,209.7 383.8,209.0 385.2,208.4 386.7,207.7 388.2,207.1 389.6,206.6 391.1,206.1 392.5,205.5 394.0,205.0 395.5,204.4 396.9,203.9 398.4,203.4 399.8,202.8 401.3,202.5 402.8,202.4 404.2,202.3 405.7,202.2 407.1,202.0 408.6,201.9 410.1,201.8 411.5,201.9 413.0,202.2 414.5,202.5 415.9,202.7 417.4,203.0 418.8,203.2 420.3,203.5 421.8,203.8 423.2,204.0 424.7,204.2 426.1,204.1 427.6,204.0 429.1,203.9 430.5,203.9 432.0,203.8 433.4,203.7 434.9,203.6 436.4,203.6 437.8,203.4 439.3,203.0 440.7,202.6 442.2,202.2 443.7,201.7 445.1,201.3 446.6,200.9 448.0,200.5 449.5,200.0 451.0,199.6 452.4,199.2 453.9,198.7 455.3,198.3 456.8,197.8 458.3,197.3 459.7,196.8 461.2,196.2 462.6,195.7 464.1,195.2 465.6,194.6 467.0,194.1 468.5,193.6 469.9,193.0 471.4,192.5 472.9,192.0 474.3,191.4 475.8,190.9 477.2,190.3 478.7,189.7 480.2,189.1 481.6,188.5 483.1,187.9 484.6,187.3 486.0,186.7 487.5,186.1 488.9,185.4 490.4,184.8 491.9,184.2 493.3,183.6 494.8,183.0 496.2,182.4 497.7,181.8 499.2,181.3 500.6,180.7 502.1,180.2 503.5,179.6 505.0,179.1 506.5,178.5 507.9,178.0 509.4,177.4 510.8,176.9 512.3,176.3 512.3,199.1 510.8,199.6 509.4,200.2 507.9,200.7 506.5,201.2 505.0,201.8 503.5,202.3 502.1,202.9 500.6,203.4 499.2,203.9 497.7,204.5 496.2,205.0 494.8,205.5 493.3,206.0 491.9,206.5 490.4,207.1 488.9,207.6 487.5,208.1 486.0,208.6 484.6,209.1 483.1,209.7 481.6,210.2 480.2,210.7 478.7,211.2 477.2,211.8 475.8,212.3 474.3,212.8 472.9,213.3 471.4,213.9 469.9,214.4 468.5,214.9 467.0,215.5 465.6,216.0 464.1,216.5 462.6,217.0 461.2,217.4 459.7,217.8 458.3,218.1 456.8,218.5 455.3,218.9 453.9,219.2 452.4,219.6 451.0,219.9 449.5,220.3 448.0,220.7 446.6,221.0 445.1,221.4 443.7,221.8 442.2,222.1 440.7,222.5 439.3,222.8 437.8,223.2 436.4,223.5 434.9,223.9 433.4,224.2 432.0,224.6 430.5,224.9 429.1,225.2 427.6,225.6 426.1,225.9 424.7,226.6 423.2,227.4 421.8,228.1 420.3,228.8 418.8,229.6 417.4,230.3 415.9,231.0 414.5,231.8 413.0,232.5 411.5,233.2 410.1,233.9 408.6,234.6 407.1,235.3 405.7,236.0 404.2,236.6 402.8,237.3 401.3,238.0 399.8,238.7 398.4,239.2 396.9,239.6 395.5,239.9 394.0,240.3 392.5,240.6 391.1,241.0 389.6,241.3 388.2,241.5 386.7,241.6 385.2,241.7 383.8,241.7 382.3,241.8 380.9,241.8 379.4,241.9 377.9,242.0 376.5,242.0 375.0,242.1 373.6,242.1 372.1,242.2"/>
<polygon fill="#FFFF00" points="372.1,242.2 373.6,242.1 375.0,242.1 376.5,242.0 377.9,242.0 379.4,241.9 380.9,241.8 382.3,241.8 383.8,241.7 385.2,241.7 386.7,241.6 388.2,241.5 389.6,241.3 391.1,241.0 392.5,240.6 394.0,240.3 395.5,239.9 396.9,239.6 398.4,239.2 399.8,238.7 401.3,238.0 402.8,237.3 404.2,236.6 405.7,236.0 407.1,235.3 408.6,234.6 410.1,233.9 411.5,233.2 413.0,232.5 414.5,231.8 415.9,231.0 417.4,230.3 418.8,229.6 420.3,228.8 421.8,228.1 423.2,227.4 424.7,226.6 426.1,225.9 427.6,225.6 429.1,225.2 430.5,224.9 432.0,224.6 433.4,224.2 434.9,223.9 436.4,223.5 437.8,223.2 439.3,222.8 440.7,222.5 442.2,222.1 443.7,221.8 445.1,221.4 446.6,221.0 448.0,220.7 449.5,220.3 451.0,219.9 452.4,219.6 453.9,219.2 455.3,218.9 456.8,218.5 458.3,218.1 459.7,217.8 461.2,217.4 462.6,217.0 464.1,216.5 465.6,216.0 467.0,215.5 468.5,214.9 469.9,214.4 471.4,213.9 472.9,213.3 474.3,212.8 475.8,212.3 477.2,211.8 478.7,211.2 480.2,210.7 481.6,210.2 483.1,209.7 484.6,209.1 486.0,208.6 487.5,208.1 488.9,207.6 490.4,207.1 491.9,206.5 493.3,206.0 494.8,205.5 496.2,205.0 497.7,204.5 499.2,203.9 500.6,203.4 502.1,202.9 503.5,202.3 505.0,201.8 506.5,201.2 507.9,200.7 509.4,200.2 510.8,199.6 512.3,199.1 512.3,242.6 510.8,242.6 509.4,242.6 507.9,242.6 506.5,242.6 505.0,242.6 503.5,242.6 502.1,242.6 500.6,242.6 499.2,242.6 497.7,242.6 496.2,242.6 494.8,242.6 493.3,242.6 491.9,242.6 490.4,242.6 488.9,242.6 487.5,242.6 486.0,242.6 484.6,242.6 483.1,242.6 481.6,242.6 480.2,242.6 478.7,242.6 477.2,242.6 475.8,242.6 474.3,242.6 472.9,242.6 471.4,242.6 469.9,242.6 468.5,242.6 467.0,242.6 465.6,242.6 464.1,242.6 462.6,242.6 461.2,242.6 459.7,242.6 458.3,242.6 456.8,242.6 455.3,242.6 453.9,242.6 452.4,242.6 451.0,242.6 449.5,242.6 448.0,242.6 446.6,242.6 445.1,242.6 443.7,242.6 442.2,242.6 440.7,242.6 439.3,242.6 437.8,242.6 436.4,242.6 434.9,242.6 433.4,242.6 432.0,242.6 430.5,242.6 429.1,242.6 427.6,242.6 426.1,242.6 424.7,242.6 423.2,242.6 421.8,242.6 420.3,242.6 418.8,242.6 417.4,242.6 415.9,242.6 414.5,242.6 413.0,242.6 411.5,242.6 410.1,242.6 408.6,242.6 407.1,242.6 405.7,242.6 404.2,242.6 402.8,242.6 401.3,242.6 399.8,242.6 398.4,242.6 396.9,242.6 395.5,242.6 394.0,242.6 392.5,242.6 391.1,242.6 389.6,242.6 388.2,242.6 386.7,242.6 385.2,242.6 383.8,242.6 382.3,242.6 380.9,242.6 379.4,242.6 377.9,242.6 376.5,242.6 375.0,242.6 373.6,242.6 372.1,242.6"/>
<rect x="364.5" y="154.0" width="155.1" height="104.30000000000001" fill="none" stroke="#5a5a5a" stroke-width="1.05"/>
<rect x="364.5" y="133.0" width="155.1" height="21.0" fill="#D8D8D8" stroke="#5a5a5a" stroke-width="1.05"/>
<text x="441.4" y="148.5" font-size="10.7" fill="#1A1A1A" stroke="#1A1A1A" stroke-width="0.12" text-anchor="middle">HiEV_Renew</text>
<line x1="400.7" x2="400.7" y1="258.3" y2="261.5" stroke="#555" stroke-width="1"/>
<text x="400.7" y="273.6" font-size="10.7" fill="#4D4D4D" stroke="#4D4D4D" stroke-width="0.15" text-anchor="middle">2025</text>
<line x1="437.8" x2="437.8" y1="258.3" y2="261.5" stroke="#555" stroke-width="1"/>
<text x="437.8" y="273.6" font-size="10.7" fill="#4D4D4D" stroke="#4D4D4D" stroke-width="0.15" text-anchor="middle">2050</text>
<line x1="474.9" x2="474.9" y1="258.3" y2="261.5" stroke="#555" stroke-width="1"/>
<text x="474.9" y="273.6" font-size="10.7" fill="#4D4D4D" stroke="#4D4D4D" stroke-width="0.15" text-anchor="middle">2075</text>
<line x1="512.1" x2="512.1" y1="258.3" y2="261.5" stroke="#555" stroke-width="1"/>
<text x="512.1" y="273.6" font-size="10.7" fill="#4D4D4D" stroke="#4D4D4D" stroke-width="0.15" text-anchor="middle">2100</text>
<line x1="37.2" x2="41" y1="243.3" y2="243.3" stroke="#555" stroke-width="1"/>
<text x="35.1" y="247.1" font-size="10.7" fill="#4D4D4D" stroke="#4D4D4D" stroke-width="0.15" text-anchor="end">0</text>
<line x1="37.2" x2="41" y1="219.0" y2="219.0" stroke="#555" stroke-width="1"/>
<text x="35.1" y="222.8" font-size="10.7" fill="#4D4D4D" stroke="#4D4D4D" stroke-width="0.15" text-anchor="end">5</text>
<line x1="37.2" x2="41" y1="194.6" y2="194.6" stroke="#555" stroke-width="1"/>
<text x="35.1" y="198.4" font-size="10.7" fill="#4D4D4D" stroke="#4D4D4D" stroke-width="0.15" text-anchor="end">10</text>
<line x1="37.2" x2="41" y1="170.2" y2="170.2" stroke="#555" stroke-width="1"/>
<text x="35.1" y="174.1" font-size="10.7" fill="#4D4D4D" stroke="#4D4D4D" stroke-width="0.15" text-anchor="end">15</text>
<text x="279.5" y="288.9" font-size="14.2" fill="#000" stroke="#000" stroke-width="0.25" text-anchor="middle">Year</text>
<g transform="translate(15.1,213.2) rotate(-90) scale(1,1.08)" font-size="13.1" fill="#000" stroke="#000" stroke-width="0.2"><text x="0" y="0" font-size="12.9">Emissions</text><text x="0" y="0" font-size="15.6" stroke="none" transform="translate(61.8,0) scale(1.25,1)">(</text><text x="68.3" y="0">GtCO</text><text x="102.5" y="2.4" font-size="9.3" stroke-width="0.1">2</text><text x="0" y="0" font-size="12" fill="#3a3a3a" stroke="none" transform="translate(108.0,1.4) scale(1.4,1.66)">/</text><text x="115.3" y="0">year</text><text x="0" y="0" font-size="15.6" stroke="none" transform="translate(140.7,0) scale(1.25,1)">)</text></g>
<rect x="234.1" y="310.8" width="15" height="14.7" fill="#4169E1" stroke="#d9d9d9" stroke-width="0.8"/>
<text x="249.0" y="323.0" font-size="10.4" fill="#000" stroke="#000" stroke-width="0.12">Direct</text>
<rect x="277.4" y="310.8" width="15" height="14.7" fill="#FFFF00" stroke="#d9d9d9" stroke-width="0.8"/>
<text x="292.2" y="323.0" font-size="10.3" fill="#000" stroke="#000" stroke-width="0.12">Indirect</text>
</svg>
</body></html>
